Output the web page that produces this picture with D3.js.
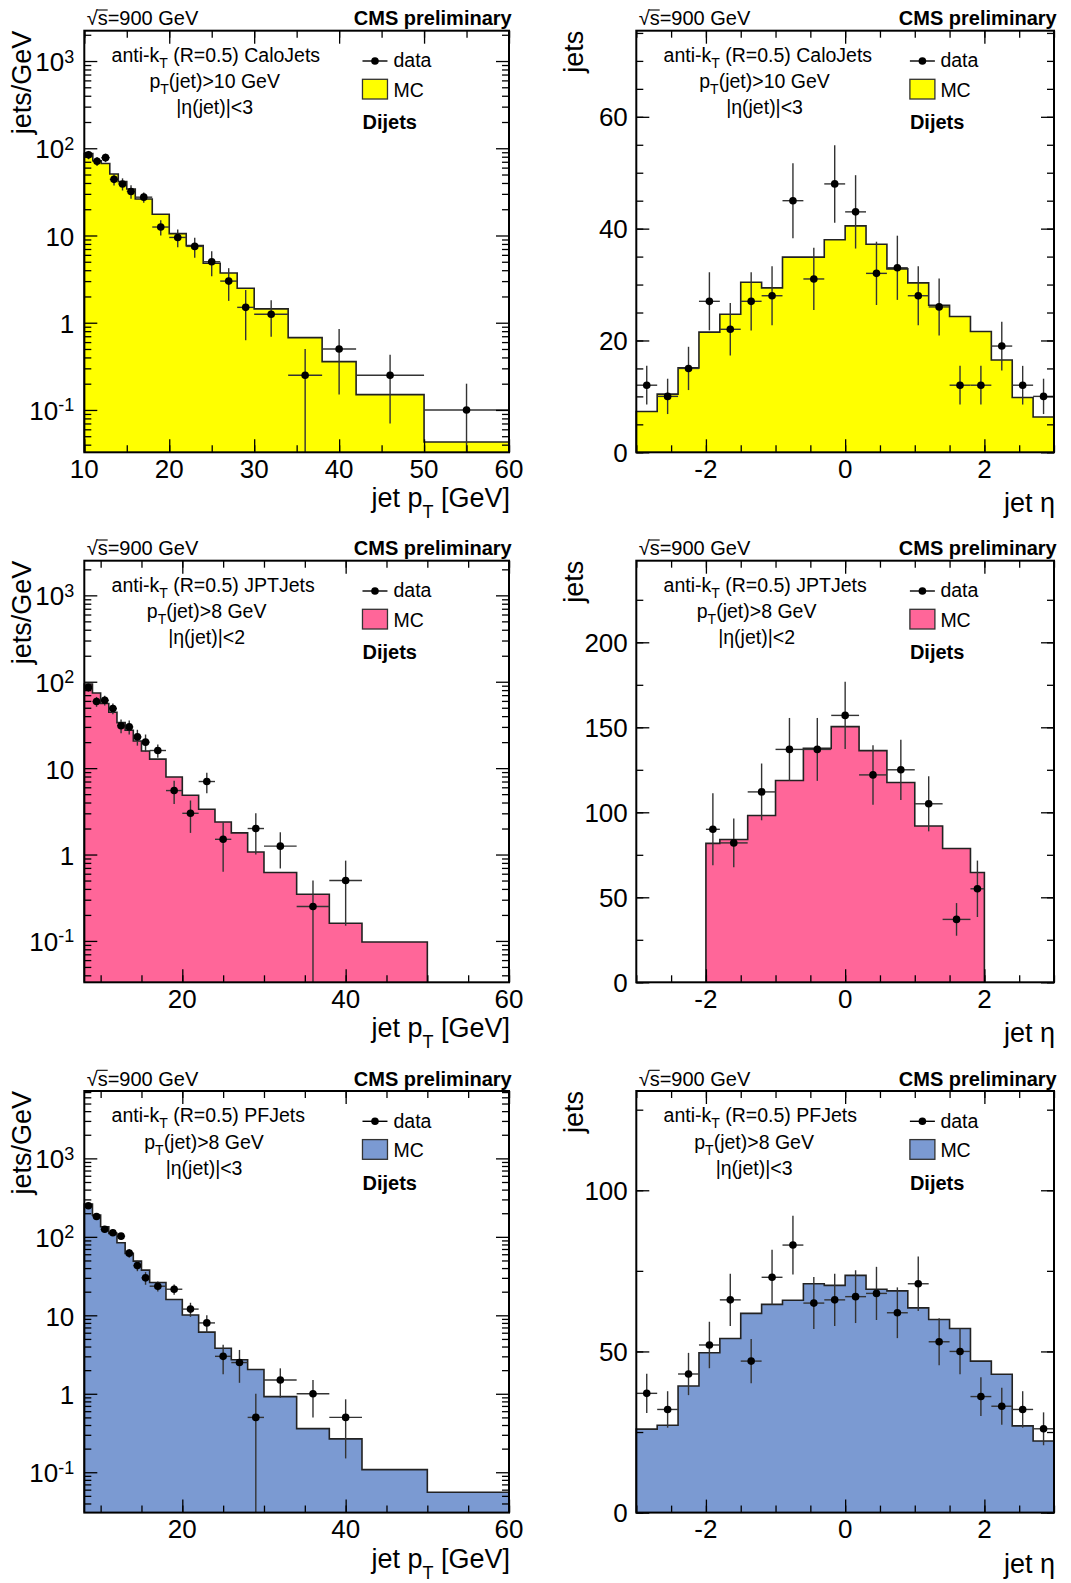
<!DOCTYPE html>
<html><head><meta charset="utf-8">
<script src="https://cdn.jsdelivr.net/npm/d3@7"></script>
<style>
body{margin:0;background:#fff}
text{font-family:"Liberation Sans",Arial,Helvetica,sans-serif;fill:#000}
</style>
</head><body>
<svg id="c" width="1071" height="1583" xmlns="http://www.w3.org/2000/svg"></svg>
<script>
// ---------------- DATA ----------------
// CaloJets pT (jets/GeV)
const caloPtEdges = [10,11,12,13,14,15,16,18,20,22,24,26,28,30,34,38,42,50,60];
const caloPtMC    = [87,72,67,50.7,41.4,34.1,26.2,17.5,10.5,7.65,4.8,3.72,2.48,1.44,0.675,0.358,0.15,0.043];
const caloPtData  = [84,71,78,44,39,32,27.5,12.5,9.5,7.5,5,3,1.5,1.25,0.25,0.5,0.25,0.1];
const caloPtErr   = [9.2,8.4,8.8,6.6,6.2,5.7,3.7,2.5,2.18,1.94,1.58,1.22,0.87,0.56,0.25,0.35,0.18,0.1];

// CaloJets eta (jets)
const etaEdges30  = [-3,-2.7,-2.4,-2.1,-1.8,-1.5,-1.2,-0.9,-0.6,-0.3,0,0.3,0.6,0.9,1.2,1.5,1.8,2.1,2.4,2.7,3];
const caloEtaMC   = [7.3,10.4,15.1,21.5,24.7,30.4,29.4,34.9,34.9,38.0,40.5,37.2,32.8,30.3,26.3,24.3,21.6,16.5,9.8,6.3];
const caloEtaData = [12,10,15,27,22,27,28,45,31,48,43,32,33,28,26,12,12,19,12,10];
const caloEtaErr  = [3.46,3.16,3.87,5.2,4.69,5.2,5.29,6.71,5.57,6.93,6.56,5.66,5.74,5.29,5.1,3.46,3.46,4.36,3.46,3.16];

// JPTJets pT (jets/GeV)
const ptEdges8    = [8,9,10,11,12,13,14,15,16,18,20,22,24,26,28,30,34,38,42,50,60];
const jptPtMC     = [94,74,56,44.3,33.6,27.4,20.6,15.8,12.7,7.9,4.85,3.34,2.38,1.78,1.07,0.62,0.347,0.16,0.097,0];
const jptPtData   = [86,59,61,49,31,30,23,20,16,5.5,3,7,1.5,null,2,1.25,0.25,0.5,null,null];
const jptPtErr    = [9.3,7.7,7.8,7.0,5.6,5.5,4.8,4.5,2.83,1.66,1.22,1.87,0.87,null,1.0,0.56,0.25,0.35,null,null];

// JPTJets eta (jets)
const jptEtaEdges = [-2,-1.8,-1.4,-1,-0.6,-0.2,0.2,0.6,1,1.4,1.8,2];
const jptEtaMC    = [81.7,84.0,98.1,118.7,137.7,150.4,136.3,117.5,91.9,78.7,64.6];
const jptEtaData  = [90,82,112,137,137,157,122,125,105,37,55];
const jptEtaErr   = [21.2,14.3,16.7,18.5,18.5,19.8,17.5,17.7,16.2,9.6,16.6];

// PFJets pT (jets/GeV)
const pfPtMC      = [262,189,134.5,110.6,84.1,61.5,49.1,37.7,26.2,15.9,10.1,6.1,3.81,2.71,2.04,0.92,0.36,0.266,0.108,0.0556];
const pfPtData    = [249,182,125,113,102,62,43,30,23.5,21.5,12,8,3,2.5,0.5,1.5,1,0.5,null,null];
const pfPtErr     = [15.8,13.5,11.2,10.6,10.1,7.9,6.5,5.5,3.43,3.28,2.45,2.0,1.22,1.12,0.5,0.61,0.5,0.35,null,null];

// PFJets eta (jets)
const pfEtaMC     = [25.9,27.1,39.3,49.6,54.0,61.8,64.6,65.9,71.0,70.5,73.6,69.3,68.8,63.5,59.9,57.1,47.0,42.9,26.9,22.2];
const pfEtaData   = [37,32,43,52,66,47,73,83,65,66,67,68,62,71,53,50,36,33,32,26];
const pfEtaErr    = [6.08,5.66,6.56,7.21,8.12,6.86,8.54,9.11,8.06,8.12,8.19,8.25,7.87,8.43,7.28,7.07,6.0,5.74,5.66,5.1];

// Tick labels
const ptTicksCalo = [10,20,30,40,50,60];
const ptTicks8    = [20,40,60];
const etaTicks    = [-2,0,2];
const logTickValues = [0.1,1,10,100,1000];
const logTickBase   = ["10","1","10","10","10"];
const logTickExp    = ["-1","","","2","3"];
const caloEtaYTicks = [0,20,40,60];
const jptEtaYTicks  = [0,50,100,150,200];
const pfEtaYTicks   = [0,50,100];

// ---------------- DRAWING ----------------
const svg = d3.select('#c');
svg.append('rect').attr('width',1071).attr('height',1583).attr('fill','#fff');

const YEL = '#ffff00', PINK = '#ff6699', BLUE = '#7b9ad2';
const H = 421.6, WL = 424.7, WR = 417.7;

const panels = [
  {left:84.3, top:30.7, w:WL, log:true, xDomain:[10,60], yDomain:[0.0327,2227],
   edges:caloPtEdges, mc:caloPtMC, data:caloPtData, err:caloPtErr, color:YEL,
   xLabels:ptTicksCalo, xMinor:d3.range(10,60.1,5), xTitle:'pt', yTitle:'jets/GeV',
   jet:'CaloJets', ptcut:'>10 GeV', etacut:'<3', cfrac:0.307},
  {left:636.3, top:30.7, w:WR, log:false, xDomain:[-3,3], yDomain:[0,75.4],
   edges:etaEdges30, mc:caloEtaMC, data:caloEtaData, err:caloEtaErr, color:YEL,
   xLabels:etaTicks, xMinor:d3.range(-3,3.01,0.5), yLabels:caloEtaYTicks, yMinor:d3.range(0,75.4,5),
   xTitle:'eta', yTitle:'jets', jet:'CaloJets', ptcut:'>10 GeV', etacut:'<3', cfrac:0.307},
  {left:84.3, top:560.7, w:WL, log:true, xDomain:[8,60], yDomain:[0.0332,2518],
   edges:ptEdges8, mc:jptPtMC, data:jptPtData, err:jptPtErr, color:PINK,
   xLabels:ptTicks8, xMinor:d3.range(10,60.1,5), xTitle:'pt', yTitle:'jets/GeV',
   jet:'JPTJets', ptcut:'>8 GeV', etacut:'<2', cfrac:0.288},
  {left:636.3, top:560.7, w:WR, log:false, xDomain:[-3,3], yDomain:[0,248],
   edges:jptEtaEdges, mc:jptEtaMC, data:jptEtaData, err:jptEtaErr, color:PINK,
   xLabels:etaTicks, xMinor:d3.range(-3,3.01,0.5), yLabels:jptEtaYTicks, yMinor:d3.range(0,248,25),
   xTitle:'eta', yTitle:'jets', jet:'JPTJets', ptcut:'>8 GeV', etacut:'<2', cfrac:0.288},
  {left:84.3, top:1091, w:WL, log:true, xDomain:[8,60], yDomain:[0.0306,7222],
   edges:ptEdges8, mc:pfPtMC, data:pfPtData, err:pfPtErr, color:BLUE,
   xLabels:ptTicks8, xMinor:d3.range(10,60.1,5), xTitle:'pt', yTitle:'jets/GeV',
   jet:'PFJets', ptcut:'>8 GeV', etacut:'<3', cfrac:0.282},
  {left:636.3, top:1091, w:WR, log:false, xDomain:[-3,3], yDomain:[0,130.8],
   edges:etaEdges30, mc:pfEtaMC, data:pfEtaData, err:pfEtaErr, color:BLUE,
   xLabels:etaTicks, xMinor:d3.range(-3,3.01,0.5), yLabels:pfEtaYTicks, yMinor:d3.range(0,130.8,25),
   xTitle:'eta', yTitle:'jets', jet:'PFJets', ptcut:'>8 GeV', etacut:'<3', cfrac:0.282}
];

function drawPanel(p){
  const w = p.w, h = H;
  const g = svg.append('g').attr('transform',`translate(${p.left},${p.top})`);
  const x = d3.scaleLinear().domain(p.xDomain).range([0,w]);
  const y = (p.log ? d3.scaleLog() : d3.scaleLinear()).domain(p.yDomain).range([h,0]);
  const yMin = p.yDomain[0], yMax = p.yDomain[1];

  // MC histogram
  const bins = p.mc.map((v,i)=>({x0:p.edges[i], x1:p.edges[i+1], v})).filter(b=>b.v>0);
  const pts = [];
  bins.forEach(b=>{pts.push({x:b.x0,v:b.v}); pts.push({x:b.x1,v:b.v});});
  const area = d3.area().x(d=>x(d.x)).y0(h).y1(d=>y(Math.max(d.v,yMin)));
  g.append('path').datum(pts).attr('d',area).attr('fill',p.color);
  const outline = [{x:bins[0].x0,v:yMin}, ...pts, {x:bins[bins.length-1].x1,v:yMin}];
  const line = d3.line().x(d=>x(d.x)).y(d=>y(Math.max(d.v,yMin)));
  g.append('path').datum(outline).attr('d',line).attr('fill','none')
    .attr('stroke','#222').attr('stroke-width',1.6);

  // data
  const dp = p.data.map((v,i)=>({v, e:p.err[i], x0:p.edges[i], x1:p.edges[i+1]})).filter(d=>d.v!=null);
  const dg = g.append('g');
  dg.selectAll('line.ev').data(dp).join('line').attr('class','ev')
    .attr('x1',d=>x((d.x0+d.x1)/2)).attr('x2',d=>x((d.x0+d.x1)/2))
    .attr('y1',d=>y(Math.max(d.v-d.e,yMin))).attr('y2',d=>y(Math.min(d.v+d.e,yMax)))
    .attr('stroke','#333').attr('stroke-width',1.4);
  dg.selectAll('line.eh').data(dp).join('line').attr('class','eh')
    .attr('x1',d=>x(d.x0)).attr('x2',d=>x(d.x1))
    .attr('y1',d=>y(d.v)).attr('y2',d=>y(d.v))
    .attr('stroke','#333').attr('stroke-width',1.4);
  dg.selectAll('circle').data(dp).join('circle')
    .attr('cx',d=>x((d.x0+d.x1)/2)).attr('cy',d=>y(d.v)).attr('r',3.8).attr('fill','#000');

  // frame
  g.append('rect').attr('width',w).attr('height',h).attr('fill','none')
    .attr('stroke','#000').attr('stroke-width',2);

  // ticks
  function ticks(axisFn, scale, vals, size, tr){
    const a = axisFn(scale).tickValues(vals).tickSizeInner(-size).tickSizeOuter(0).tickFormat('');
    const gg = g.append('g').attr('transform',tr).call(a);
    gg.select('.domain').remove();
    gg.selectAll('line').attr('stroke','#000').attr('stroke-width',1.3);
  }
  ticks(d3.axisBottom, x, p.xLabels, 13, `translate(0,${h})`);
  ticks(d3.axisTop, x, p.xLabels, 13, 'translate(0,0)');
  ticks(d3.axisBottom, x, p.xMinor, 7, `translate(0,${h})`);
  ticks(d3.axisTop, x, p.xMinor, 7, 'translate(0,0)');
  let yMaj, yMinT;
  if (p.log){
    yMaj = logTickValues.filter(v=>v>=yMin && v<=yMax);
    yMinT = [];
    for (let n=-3;n<=4;n++) for (let k=2;k<=9;k++){ const v=k*Math.pow(10,n); if(v>=yMin&&v<=yMax) yMinT.push(v); }
  } else { yMaj = p.yLabels; yMinT = p.yMinor; }
  ticks(d3.axisLeft, y, yMaj, 13, 'translate(0,0)');
  ticks(d3.axisRight, y, yMaj, 13, `translate(${w},0)`);
  ticks(d3.axisLeft, y, yMinT, 7, 'translate(0,0)');
  ticks(d3.axisRight, y, yMinT, 7, `translate(${w},0)`);

  // tick labels
  g.selectAll('text.xl').data(p.xLabels).join('text').attr('class','xl')
    .attr('x',d=>x(d)).attr('y',h+25.5).attr('text-anchor','middle').attr('font-size',26).text(d=>d);
  if (p.log){
    logTickValues.forEach((v,i)=>{
      const t = g.append('text').attr('x',-10).attr('y',y(v)+(logTickExp[i]?10:10.5))
        .attr('text-anchor','end').attr('font-size',26);
      t.append('tspan').text(logTickBase[i]);
      if (logTickExp[i]) t.append('tspan').attr('dy',-8.5).attr('font-size',18).text(logTickExp[i]);
    });
  } else {
    g.selectAll('text.yl').data(p.yLabels).join('text').attr('class','yl')
      .attr('x',-8.5).attr('y',d=>y(d)+9.5).attr('text-anchor','end').attr('font-size',26).text(d=>d);
  }

  // axis titles
  const xt = g.append('text').attr('text-anchor','end').attr('font-size',27)
    .attr('x',w+1).attr('y',h+(p.xTitle==='pt'?55:60));
  if (p.xTitle==='pt'){
    xt.append('tspan').text('jet p');
    xt.append('tspan').attr('dy',11).attr('font-size',18).text('T');
    xt.append('tspan').attr('dy',-11).text(' [GeV]');
  } else {
    xt.text('jet η');
  }
  g.append('text').attr('transform',`translate(-53,0) rotate(-90)`).attr('text-anchor','end')
    .attr('font-size',27).text(p.yTitle);

  // header
  const hy = -5.4;
  const hdr = g.append('text').attr('x',2.4).attr('y',hy).attr('font-size',20).text('√s=900 GeV');
  try{
    const n = hdr.node();
    const sx0 = n.getStartPositionOfChar(1).x, sx1 = n.getEndPositionOfChar(1).x;
    g.append('line').attr('x1',sx0-0.5).attr('x2',sx1).attr('y1',hy-15.3).attr('y2',hy-15.3)
      .attr('stroke','#000').attr('stroke-width',1.1);
  }catch(e){}
  g.append('text').attr('x',w+2.7).attr('y',hy).attr('text-anchor','end')
    .attr('font-size',20).attr('font-weight','bold').text('CMS preliminary');

  // info text
  const t1 = g.append('text').attr('x',27.3).attr('y',31).attr('font-size',19.5);
  t1.append('tspan').text('anti-k');
  t1.append('tspan').attr('dy',6).attr('font-size',14).text('T');
  t1.append('tspan').attr('dy',-6).text(' (R=0.5) '+p.jet);
  const cx = p.cfrac*w;
  const t2 = g.append('text').attr('x',cx).attr('y',57.6).attr('text-anchor','middle').attr('font-size',19.5);
  t2.append('tspan').text('p');
  t2.append('tspan').attr('dy',6).attr('font-size',14).text('T');
  t2.append('tspan').attr('dy',-6).text('(jet)'+p.ptcut);
  g.append('text').attr('x',cx).attr('y',83.6).attr('text-anchor','middle').attr('font-size',19.5)
    .text('|η(jet)|'+p.etacut);

  // legend
  const lx = 0.655*w, tx = 0.728*w;
  g.append('line').attr('x1',lx).attr('x2',lx+25).attr('y1',30.3).attr('y2',30.3)
    .attr('stroke','#000').attr('stroke-width',1.4);
  g.append('circle').attr('cx',lx+12.5).attr('cy',30.3).attr('r',3.8).attr('fill','#000');
  g.append('text').attr('x',tx).attr('y',36.5).attr('font-size',19.5).text('data');
  g.append('rect').attr('x',lx).attr('y',48.6).attr('width',25).attr('height',19.7)
    .attr('fill',p.color).attr('stroke','#333').attr('stroke-width',1.3);
  g.append('text').attr('x',tx).attr('y',66.3).attr('font-size',19.5).text('MC');
  g.append('text').attr('x',lx).attr('y',98.6).attr('font-size',20).attr('font-weight','bold').text('Dijets');
}

panels.forEach(drawPanel);
</script>
</body></html>
